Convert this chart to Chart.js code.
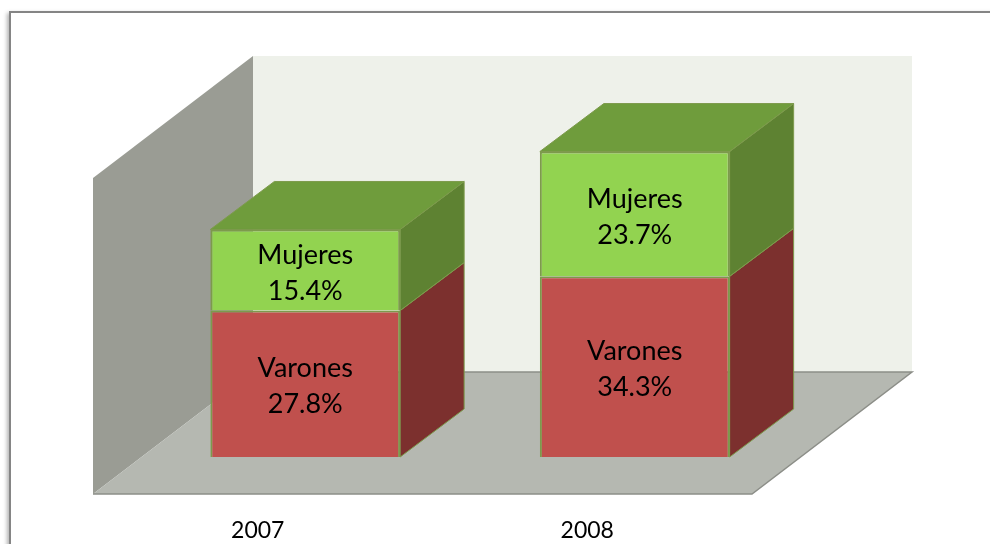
<!DOCTYPE html>
<html lang="es">
<head>
<meta charset="utf-8">
<title>Varones y Mujeres</title>
<script src="https://cdn.jsdelivr.net/npm/chart.js@4"></script>
<style>
    html, body { margin: 0; padding: 0; background: #fff; overflow: hidden; }
    #frame {
        position: absolute; left: 9px; top: 11px; width: 1000px; height: 560px;
        border-top: 2px solid #858585; border-left: 2px solid #858585;
        box-shadow: -2px 2px 4px rgba(0, 0, 0, 0.3);
    }
    #wrap { position: absolute; left: 0; top: 0; width: 990px; height: 544px; }
</style>
</head>
<body>
<div id="frame"></div>
<div id="wrap"><canvas id="chart" width="990" height="544"></canvas></div>
<script>
const years = ['2007', '2008'];
const varones = [27.8, 34.3];
const mujeres = [15.4, 23.7];
const seriesNames = ['Varones', 'Mujeres'];

// colores: frente, lateral, tapa
const frontColors = ['#c0504d', '#92d350'];
const sideColors = ['#7c302e', '#5e8232'];
const topColor = '#6f9c3c';
const edgeColor = '#7d9a4c';

// perspectiva del piso y posicion de la barra dentro de el
const depthX = 160, depthY = 122;
const barShiftX = 47.5, barShiftY = 37;
const barDepthX = 64, barDepthY = 48;

const fontName = 'Lato, Carlito, sans-serif';

// --- piso y paredes ---
const wallsPlugin = {
    id: 'walls',
    beforeDraw(chart) {
        const { ctx, chartArea: a } = chart;
        ctx.save();
        ctx.fillStyle = '#eef1ea';
        ctx.fillRect(a.left + depthX, a.top - depthY, a.width, a.height);

        ctx.fillStyle = '#9a9c94';
        ctx.beginPath();
        ctx.moveTo(a.left, a.top);
        ctx.lineTo(a.left + depthX, a.top - depthY);
        ctx.lineTo(a.left + depthX, a.bottom - depthY);
        ctx.lineTo(a.left, a.bottom);
        ctx.closePath();
        ctx.fill();

        ctx.fillStyle = '#b5b8b1';
        ctx.beginPath();
        ctx.moveTo(a.left, a.bottom);
        ctx.lineTo(a.left + depthX, a.bottom - depthY);
        ctx.lineTo(a.right + depthX, a.bottom - depthY);
        ctx.lineTo(a.right, a.bottom);
        ctx.closePath();
        ctx.fill();

        // borde inferior del piso
        ctx.strokeStyle = '#8c8e88';
        ctx.lineWidth = 1.5;
        ctx.beginPath();
        ctx.moveTo(a.left, a.bottom);
        ctx.lineTo(a.right, a.bottom);
        ctx.lineTo(a.right + depthX, a.bottom - depthY);
        ctx.lineTo(a.left + depthX, a.bottom - depthY);
        ctx.stroke();
        ctx.restore();
    }
};

function quad(ctx, pts, fill) {
    ctx.fillStyle = fill;
    ctx.strokeStyle = edgeColor;
    ctx.lineWidth = 1;
    ctx.beginPath();
    pts.forEach((p, i) => i ? ctx.lineTo(p[0], p[1]) : ctx.moveTo(p[0], p[1]));
    ctx.closePath();
    ctx.fill();
    ctx.stroke();
}

// --- caras laterales, tapa y desplazamiento de las barras ---
const boxPlugin = {
    id: 'box',
    beforeDatasetsDraw(chart) {
        const { ctx } = chart;
        ctx.save();
        ctx.translate(barShiftX, -barShiftY);
        chart.data.datasets.forEach((ds, d) => {
            chart.getDatasetMeta(d).data.forEach(bar => {
                const r = bar.x + bar.width / 2;
                const l = bar.x - bar.width / 2;
                quad(ctx, [
                    [r, bar.y], [r + barDepthX, bar.y - barDepthY],
                    [r + barDepthX, bar.base - barDepthY], [r, bar.base]
                ], sideColors[d]);
                if (d === chart.data.datasets.length - 1) {
                    quad(ctx, [
                        [l, bar.y], [l + barDepthX, bar.y - barDepthY],
                        [r + barDepthX, bar.y - barDepthY], [r, bar.y]
                    ], topColor);
                }
            });
        });
    },
    afterDatasetsDraw(chart) {
        const { ctx } = chart;
        ctx.restore();
        ctx.save();
        ctx.translate(barShiftX, -barShiftY);
        ctx.fillStyle = '#000';
        ctx.font = '27px ' + fontName;
        ctx.textAlign = 'center';
        ctx.textBaseline = 'middle';
        chart.data.datasets.forEach((ds, d) => {
            chart.getDatasetMeta(d).data.forEach((bar, i) => {
                const mid = (bar.y + bar.base) / 2;
                ctx.fillText(seriesNames[d], bar.x, mid - 15);
                ctx.fillText(ds.data[i].toFixed(1) + '%', bar.x, mid + 21);
            });
        });
        ctx.restore();
    }
};

new Chart(document.getElementById('chart'), {
    type: 'bar',
    data: {
        labels: years,
        datasets: [varones, mujeres].map((values, d) => ({
            label: seriesNames[d],
            data: values,
            backgroundColor: frontColors[d],
            borderColor: edgeColor,
            borderWidth: 2,
            barPercentage: 0.576,
            categoryPercentage: 1
        }))
    },
    options: {
        responsive: false,
        animation: false,
        layout: { padding: { left: 93, right: 238, top: 178, bottom: 0 } },
        plugins: { legend: { display: false }, tooltip: { enabled: false } },
        scales: {
            x: {
                stacked: true,
                grid: { display: false },
                border: { display: false },
                afterFit(scale) { scale.height = 50; },
                ticks: { color: '#000', padding: 15, maxRotation: 0, font: { family: fontName, size: 23 } }
            },
            y: { stacked: true, display: false, min: 0, max: 60 }
        }
    },
    plugins: [wallsPlugin, boxPlugin]
});
</script>
</body>
</html>
